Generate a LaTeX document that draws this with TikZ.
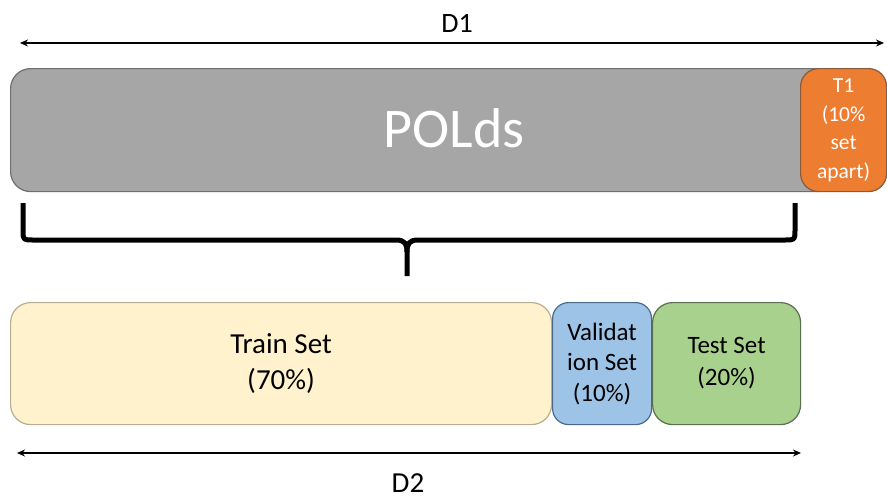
\documentclass[tikz,border=0pt]{standalone}
\usepackage{fontspec}
\setmainfont{Carlito}
\usetikzlibrary{arrows.meta}
\definecolor{grayfill}{HTML}{A6A6A6}
\definecolor{grayline}{HTML}{6F6F6F}
\definecolor{orangefill}{HTML}{ED7D31}
\definecolor{orangeline}{HTML}{8A5A3A}
\definecolor{yellowfill}{HTML}{FFF2CC}
\definecolor{yellowline}{HTML}{B8AE90}
\definecolor{bluefill}{HTML}{9DC3E6}
\definecolor{blueline}{HTML}{4A6A8A}
\definecolor{greenfill}{HTML}{A9D18E}
\definecolor{greenline}{HTML}{5A6E50}
\tikzset{
  box/.style={draw, line width=1.2pt, rounded corners=20pt, inner sep=0pt, align=center},
  dimarrow/.style={line width=1.5pt, {Stealth[length=8pt,width=7pt]}-{Stealth[length=8pt,width=7pt]}},
  bracepath/.style={line width=5pt, line join=round, line cap=butt},
  lbl/.style={inner sep=0pt, anchor=base},
}
\begin{document}
\begin{tikzpicture}[x=1pt,y=-1pt]
\useasboundingbox (0,0) rectangle (887,498);
% top row
\node[box, fill=grayfill, draw=grayline, minimum width=825pt, minimum height=123pt, anchor=north west] (polds) at (10,68) {};
\node[lbl, text=white, font=\fontsize{56}{60}\selectfont] (poldstext) at (454,147) {POLds};
\node[box, fill=orangefill, draw=orangeline, rounded corners=18pt, minimum width=86pt, minimum height=123pt, anchor=north west, text=white,
      font=\fontsize{21.5}{28.5}\selectfont] (t1) at (800,68) {T1\\(10\%\\set\\apart)};
% D1
\coordinate (d1l) at (20,43);
\coordinate (d1r) at (884,43);
\draw[dimarrow] (d1l) -- (d1r);
\node[lbl, font=\fontsize{28}{30}\selectfont] (d1) at (457,32) {D1};
% brace
\coordinate (bl) at (23,203);
\coordinate (br) at (795,203);
\coordinate (btip) at (407,276);
\draw[bracepath] (bl) -- (23,230) .. controls (23,240) .. (33,240) -- (396,240) .. controls (405,240) and (407,244) .. (407,252) -- (btip);
\draw[bracepath] (br) -- (795,230) .. controls (795,240) .. (785,240) -- (418,240) .. controls (409,240) and (407,244) .. (407,252);
% bottom row
\node[box, fill=yellowfill, draw=yellowline, minimum width=541pt, minimum height=122pt, anchor=north west,
      font=\fontsize{29}{36}\selectfont] (train) at (10,302) {Train Set\\(70\%)};
\node[box, fill=bluefill, draw=blueline, rounded corners=16pt, minimum width=99pt, minimum height=122pt, anchor=north west,
      font=\fontsize{25}{30.5}\selectfont] (val) at (552,302) {Validat\\ion Set\\(10\%)};
\node[box, fill=greenfill, draw=greenline, minimum width=148pt, minimum height=122pt, anchor=north west,
      font=\fontsize{25}{32}\selectfont] (test) at (652,302) {Test Set\\(20\%)};
% D2
\coordinate (d2l) at (17,453);
\coordinate (d2r) at (801,453);
\draw[dimarrow] (d2l) -- (d2r);
\node[lbl, font=\fontsize{29}{30}\selectfont] (d2) at (408,492) {D2};
\end{tikzpicture}
\end{document}
